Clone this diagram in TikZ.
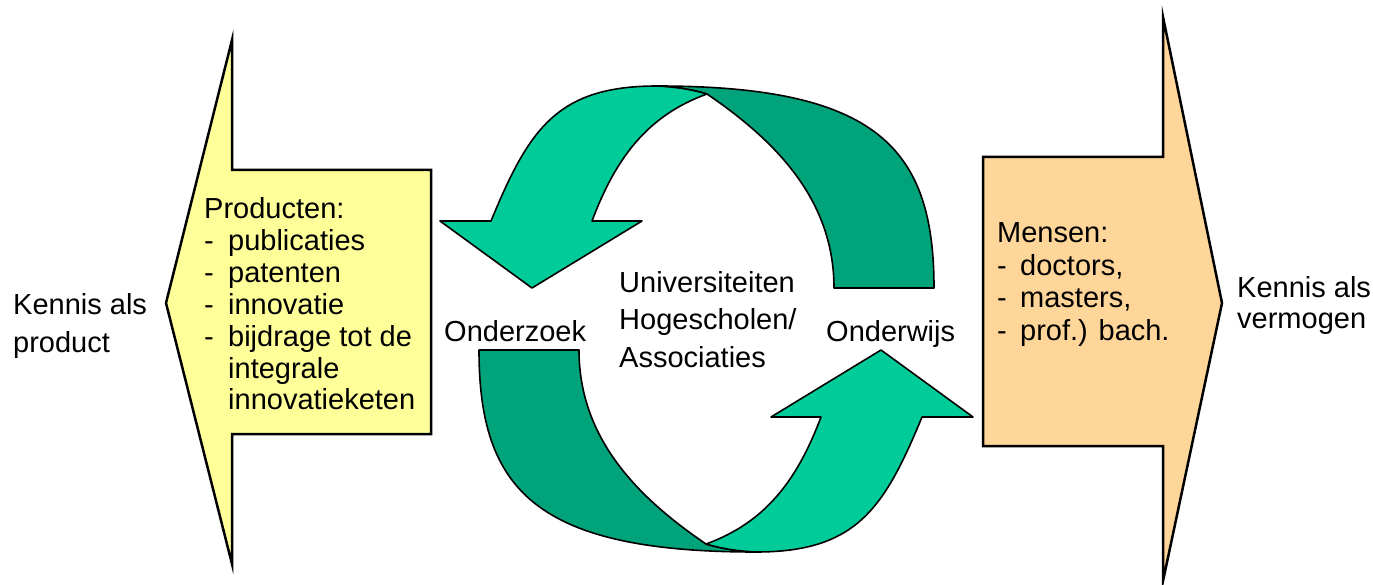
\documentclass[tikz,border=0pt]{standalone}
\usepackage{fontspec}
\setmainfont{Liberation Sans}
\definecolor{lgreen}{RGB}{0,204,153}
\definecolor{dgreen}{RGB}{0,163,122}
\definecolor{pyellow}{RGB}{255,255,153}
\definecolor{porange}{RGB}{255,214,153}
\newcommand{\myUturn}{%
  \draw[garrow, fill=dgreen] (657,86) .. controls (877,86) and (934,148) .. (934,288)
     -- (834,288) .. controls (834,198) and (773,139) .. (707,94)
     .. controls (690,89) and (675,87) .. (657,86) -- cycle;
  \draw[garrow, fill=lgreen] (491,221) -- (440,221) -- (532,288) -- (642,221) -- (592,221)
     .. controls (615,160) and (646,116) .. (707,94)
     .. controls (690,89) and (675,87) .. (657,86)
     .. controls (557,86) and (529,129) .. (491,221) -- cycle;
}
\begin{document}
\begin{tikzpicture}[x=1pt,y=-1pt,
  txt/.style={font=\fontsize{29}{35}\selectfont, anchor=base west, inner sep=0pt},
  bigarrow/.style={draw=black, line width=2.5pt, line join=miter},
  garrow/.style={draw=black, line width=1.6pt, line join=round}]
\useasboundingbox (0,0) rectangle (1373,585);
\fill[white] (0,0) rectangle (1373,585);

% left yellow arrow
\draw[bigarrow, fill=pyellow] (232,40) -- (232,170) -- (431,170) -- (431,434) -- (232,434)
  -- (232,564) -- (166,303) -- cycle;
% right orange arrow
\draw[bigarrow, fill=porange] (1163,17) -- (1163,157) -- (983,157) -- (983,446) -- (1163,446)
  -- (1163,581) -- (1222,303) -- cycle;

% green circular arrows
\begin{scope}
  \myUturn
\end{scope}
\begin{scope}[rotate around={180:(706.5,319)}]
  \myUturn
\end{scope}

% left box text
\node[txt] (p0) at (204,219) {Producten:};
\node[txt] (p1) at (204,250.8) {\makebox[24pt][l]{-}publicaties};
\node[txt] (p2) at (204,282.6) {\makebox[24pt][l]{-}patenten};
\node[txt] (p3) at (204,314.4) {\makebox[24pt][l]{-}innovatie};
\node[txt] (p4) at (204,346.2) {\makebox[24pt][l]{-}bijdrage tot de};
\node[txt] (p5) at (228,378) {integrale};
\node[txt] (p6) at (228,409.8) {innovatieketen};

% right box text
\node[txt] (m0) at (997,243) {Mensen:};
\node[txt] (m1) at (997,275.3) {\makebox[23pt][l]{-}doctors,};
\node[txt] (m2) at (997,307.6) {\makebox[23pt][l]{-}masters,};
\node[txt] (m3) at (997,340) {\makebox[23pt][l]{-}prof.) bach.};

% outer labels
\node[txt] (kl1) at (13,315) {Kennis als};
\node[txt] (kl2) at (13,352) {product};
\node[txt] (kr1) at (1237,298) {Kennis als};
\node[txt] (kr2) at (1237,328) {vermogen};

% center labels
\node[txt] (u1) at (619,293) {Universiteiten};
\node[txt] (u2) at (619,330) {Hogescholen/};
\node[txt] (u3) at (619,367) {Associaties};
\node[txt] (oz) at (444,341) {Onderzoek};
\node[txt] (ow) at (826,341) {Onderwijs};
\end{tikzpicture}
\end{document}
